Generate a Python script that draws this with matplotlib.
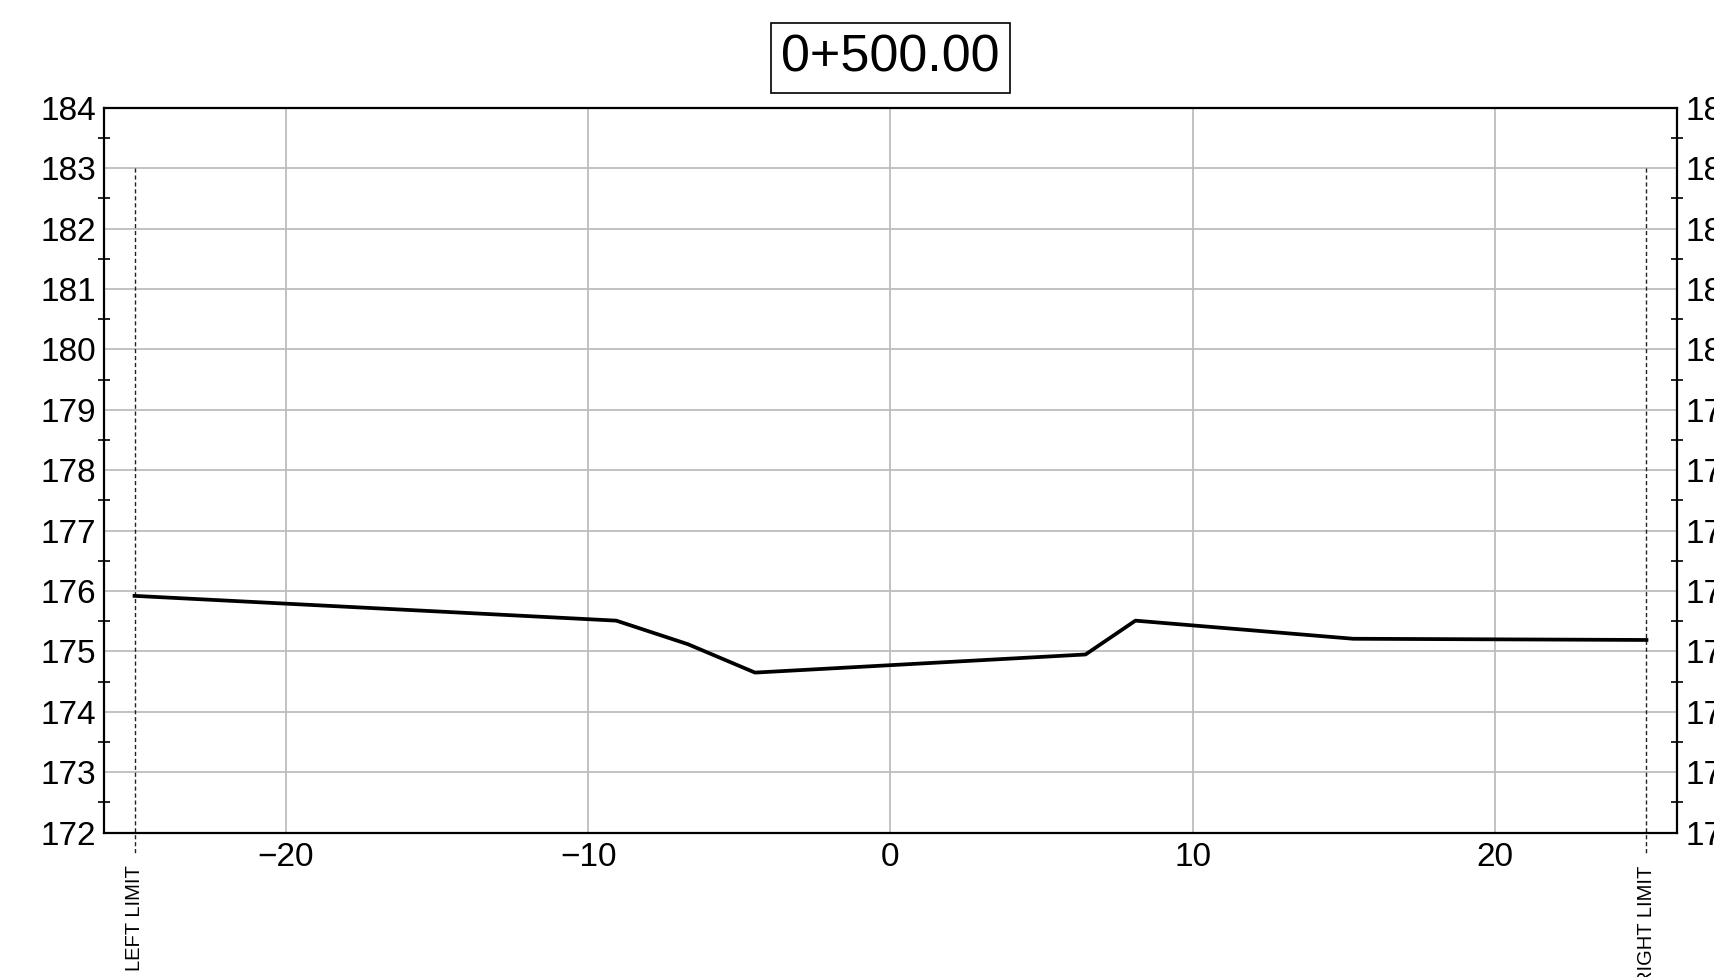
import numpy as np
import matplotlib
matplotlib.use("Agg")
import matplotlib.pyplot as plt
from matplotlib.ticker import FixedLocator, MultipleLocator

plt.rcParams["font.family"] = ["Liberation Sans", "DejaVu Sans"]

# Section data
station = "0+500.00"
offsets = [-25.0, -9.07, -6.7, -4.48, 6.45, 8.1, 15.3, 25.0]
elevations = [175.92, 175.51, 175.12, 174.65, 174.95, 175.51, 175.21, 175.19]

left_limit = -25.0
right_limit = 25.0
limit_top = 183.0
limit_bottom = 171.63

x_range = (-26, 26)
y_range = (172, 184)

fig = plt.figure(figsize=(17.15, 9.77), dpi=100)
ax = fig.add_axes([104.3 / 1715, 1 - 832.7 / 977, (1676.7 - 104.3) / 1715, (832.7 - 107.7) / 977])

# Ground line
ax.plot(offsets, elevations, color="black", lw=2.7, zorder=3)

# Left / right limits
for xl, label in [(left_limit, "LEFT LIMIT"), (right_limit, "RIGHT LIMIT")]:
    ax.plot([xl, xl], [limit_top, limit_bottom], color="#222222", lw=1.0,
            linestyle=(0, (3, 2)), clip_on=False, zorder=2)
    ax.text(xl, limit_bottom - 0.17, label, rotation=90, ha="center", va="top",
            fontsize=14.5, clip_on=False)

ax.set_xlim(*x_range)
ax.set_ylim(*y_range)

ax.xaxis.set_major_locator(MultipleLocator(10))
ax.yaxis.set_major_locator(MultipleLocator(1))
ax.yaxis.set_minor_locator(FixedLocator(np.arange(172.5, 184, 1)))

ax.grid(True, which="major", color="#bdbdbd", lw=1.3)
ax.set_axisbelow(True)

ax.tick_params(axis="y", which="major", length=0, labelsize=24, pad=6,
               left=True, right=True, labelleft=True, labelright=True)
ax.tick_params(axis="y", which="minor", direction="inout", length=9, width=1.2,
               left=True, right=True)
ax.tick_params(axis="x", which="major", length=0, labelsize=24, pad=7)

for s in ax.spines.values():
    s.set_linewidth(1.6)

ax.text(0.5, 1.069, station, transform=ax.transAxes, ha="center", va="center",
        fontsize=37.5, bbox=dict(boxstyle="square,pad=0.2", fc="white", ec="black", lw=1.2))

fig.savefig("out.png", dpi=100)
